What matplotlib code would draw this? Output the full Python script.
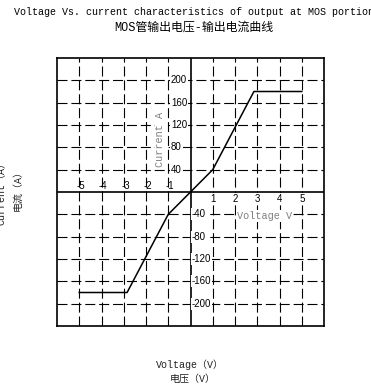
import matplotlib
matplotlib.use("Agg")
import matplotlib.pyplot as plt

# curve
volts = [-5, -2.85, -1, 0, 1, 2.85, 5]
amps = [-180, -180, -40, 0, 40, 180, 180]

x_ticks = [-5, -4, -3, -2, -1, 1, 2, 3, 4, 5]
y_ticks = [-200, -160, -120, -80, -40, 40, 80, 120, 160, 200]

title_en = "Voltage Vs. current characteristics of output at MOS portion"
title_cn = "MOS管输出电压-输出电流曲线"
xlabel_en = "Voltage（V）"
xlabel_cn = "电压（V）"
ylabel_en = "Current（A）"
ylabel_cn = "电流（A）"

MONO = ["Liberation Mono", "Noto Sans CJK SC"]
SANS = "Liberation Sans"
W, H = 371, 389


def _main():
    fig = plt.figure(figsize=(W / 100, H / 100), dpi=100)
    ax = fig.add_axes([57 / W, 1 - 326 / H, 267 / W, 268 / H])
    ax.set_xlim(-6, 6)
    ax.set_ylim(-240, 240)
    ax.set_xticks([])
    ax.set_yticks([])
    for s in ax.spines.values():
        s.set_linewidth(1.2)

    grid_kw = dict(color="black", lw=0.8, dashes=(9, 3.5), zorder=1)
    for x in x_ticks:
        ax.axvline(x, **grid_kw)
    for y in y_ticks:
        ax.axhline(y, **grid_kw)
    ax.axhline(0, color="black", lw=1.2, zorder=2)
    ax.axvline(0, color="black", lw=1.2, zorder=2)

    box = dict(facecolor="white", edgecolor="none", pad=0.6)
    for x in x_ticks:
        if x < 0:
            # grid line runs between the minus sign and the digit
            ax.text(x + 0.08, 11.5, str(x), ha="center", va="center",
                    fontsize=7, family=SANS, zorder=3)
        else:
            ax.text(x, -12.5, str(x), ha="center", va="center", fontsize=7,
                    family=SANS, bbox=box, zorder=3)
    for y in y_ticks:
        xx = -0.88 if y > 0 else 0.06
        ax.text(xx, y, str(y), ha="left", va="center", fontsize=7,
                family=SANS, bbox=box, zorder=3)

    ax.text(-1.35, 95, "Current A", rotation=90, ha="center", va="center",
            fontsize=7.4, family=MONO, color="#808080", bbox=box, zorder=3)
    ax.text(3.33, -43, "Voltage V", ha="center", va="center",
            fontsize=7.4, family=MONO, color="#808080", bbox=box, zorder=3)

    ax.plot(volts, amps, color="black", lw=1.1, zorder=4)

    fig.text(194 / W, 1 - 12 / H, title_en, ha="center", va="center",
             fontsize=7.2, family=MONO)
    fig.text(194 / W, 1 - 28 / H, title_cn, ha="center", va="center",
             fontsize=8.6, family=MONO)
    fig.text(190 / W, 1 - 365 / H, xlabel_en, ha="center", va="center",
             fontsize=7.2, family=MONO, color="#222222")
    fig.text(193 / W, 1 - 379 / H, xlabel_cn, ha="center", va="center",
             fontsize=7.2, family=MONO, color="#222222")
    fig.text(2 / W, 1 - 191 / H, ylabel_en, rotation=90, ha="center",
             va="center", fontsize=7.2, family=MONO, color="#222222")
    fig.text(17.5 / W, 1 - 188 / H, ylabel_cn, rotation=90, ha="center",
             va="center", fontsize=7.2, family=MONO, color="#222222")

    fig.savefig("out.png", dpi=100)


if __name__ == '__main__':
    _main()
